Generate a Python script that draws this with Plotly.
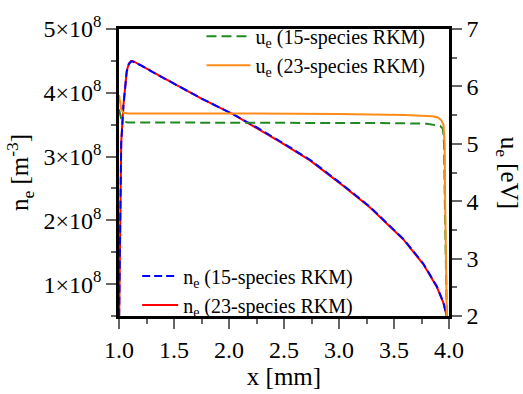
import plotly.graph_objects as go

# ---- data ----
x_ne = [1.000, 1.005, 1.010, 1.020, 1.040, 1.070, 1.090, 1.110, 1.124, 1.150, 1.20, 1.30,
        1.50, 1.75, 2.04, 2.25, 2.464, 2.736, 3.039, 3.282, 3.585, 3.767, 3.888, 3.948,
        3.979, 3.990]
ne_15 = [0.30, 1.20, 2.45, 3.20, 3.79, 4.33, 4.45, 4.49, 4.49, 4.47, 4.43, 4.33,
         4.14, 3.91, 3.66, 3.46, 3.24, 2.95, 2.55, 2.21, 1.71, 1.32, 0.97, 0.72,
         0.50, 0.30]
ne_23 = [0.30, 1.25, 2.50, 3.22, 3.80, 4.34, 4.46, 4.50, 4.50, 4.48, 4.43, 4.33,
         4.14, 3.91, 3.66, 3.45, 3.23, 2.94, 2.54, 2.20, 1.70, 1.31, 0.96, 0.71,
         0.50, 0.30]

x_ue15 = [1.000, 1.010, 1.020, 1.040, 1.080, 1.5, 2.5, 3.5, 3.80, 3.88, 3.92, 3.945,
          3.955, 3.962, 3.970, 3.980]
ue_15 = [5.60, 5.50, 5.44, 5.39, 5.37, 5.37, 5.37, 5.36, 5.35, 5.33, 5.31, 5.26,
         5.00, 4.00, 3.00, 2.00]
x_ue23 = [1.000, 1.010, 1.020, 1.040, 1.080, 2.0, 3.0, 3.6, 3.85, 3.90, 3.93, 3.95,
          3.96, 3.965, 3.972, 3.980]
ue_23 = [5.85, 5.70, 5.60, 5.54, 5.53, 5.53, 5.52, 5.50, 5.48, 5.46, 5.41, 5.33,
         5.00, 4.00, 3.00, 2.00]

ne_tickvals = [1, 2, 3, 4, 5]
ne_ticktext = ["1×10<sup>8</sup>", "2×10<sup>8</sup>", "3×10<sup>8</sup>",
               "4×10<sup>8</sup>", "5×10<sup>8</sup>"]
SCALE = 1e8

FONT = "Liberation Serif"

fig = go.Figure()
fig.add_trace(go.Scatter(x=x_ue15, y=ue_15, yaxis="y2", mode="lines",
                         name="u<sub>e</sub> (15-species RKM)",
                         line=dict(color="#1f8a1f", width=2, dash="10px,5px"),
                         legend="legend", legendrank=1))
fig.add_trace(go.Scatter(x=x_ue23, y=ue_23, yaxis="y2", mode="lines",
                         name="u<sub>e</sub> (23-species RKM)",
                         line=dict(color="#ff8c1a", width=2),
                         legend="legend", legendrank=2))
fig.add_trace(go.Scatter(x=x_ne, y=[v * SCALE for v in ne_23], mode="lines",
                         name="n<sub>e</sub> (23-species RKM)",
                         line=dict(color="#ff0000", width=2),
                         legend="legend2", legendrank=4))
fig.add_trace(go.Scatter(x=x_ne, y=[v * SCALE for v in ne_15], mode="lines",
                         name="n<sub>e</sub> (15-species RKM)",
                         line=dict(color="#0000ff", width=2, dash="8px,4px"),
                         legend="legend2", legendrank=3))

tick_common = dict(ticks="outside", ticklen=10, tickwidth=1.5, tickcolor="#666666",
                   showline=True, linecolor="black", linewidth=2.5,
                   showgrid=False, zeroline=False,
                   tickfont=dict(family=FONT, size=24, color="black"))
minor_common = dict(ticks="outside", ticklen=5, tickcolor="#666666", tickwidth=1.5)

fig.update_layout(
    width=523, height=394,
    margin=dict(l=119, r=74, t=18, b=72),
    paper_bgcolor="white", plot_bgcolor="white",
    font=dict(family=FONT, color="black"),
    xaxis=dict(range=[1.0, 4.0], tickmode="array",
               tickvals=[1.0, 1.5, 2.0, 2.5, 3.0, 3.5, 4.0],
               ticktext=["1.0", "1.5", "2.0", "2.5", "3.0", "3.5", "4.0"],
               mirror=True,
               minor=dict(tickvals=[1.25, 1.75, 2.25, 2.75, 3.25, 3.75], **minor_common),
               title=dict(text="x [mm]", font=dict(family=FONT, size=25), standoff=2),
               **tick_common),
    yaxis=dict(range=[0.5 * SCALE, 5 * SCALE], tickmode="array",
               tickvals=[v * SCALE for v in ne_tickvals], ticktext=ne_ticktext,
               minor=dict(tickvals=[v * SCALE for v in [0.5, 1.5, 2.5, 3.5, 4.5]],
                          **minor_common),
               title=dict(text="n<sub>e</sub> [m<sup>-3</sup>]",
                          font=dict(family=FONT, size=25), standoff=8),
               **tick_common),
    yaxis2=dict(range=[2, 7], overlaying="y", side="right", tickmode="array",
                tickvals=[2, 3, 4, 5, 6, 7],
                minor=dict(tickvals=[2.5, 3.5, 4.5, 5.5, 6.5], **minor_common),
                **tick_common),
    legend=dict(x=0.25, y=1.043, xanchor="left", yanchor="top",
                bgcolor="rgba(0,0,0,0)", font=dict(family=FONT, size=20),
                tracegroupgap=0, itemwidth=44),
    legend2=dict(x=0.055, y=-0.03, xanchor="left", yanchor="bottom",
                 bgcolor="rgba(0,0,0,0)", font=dict(family=FONT, size=20),
                 tracegroupgap=0, itemwidth=36),
    annotations=[dict(text="u<sub>e</sub> [eV]", textangle=90, xref="paper", yref="paper",
                      x=1.178, y=0.5, xanchor="center", yanchor="middle", showarrow=False,
                      font=dict(family=FONT, size=25, color="black"))],
)

fig.write_html("out.html")
